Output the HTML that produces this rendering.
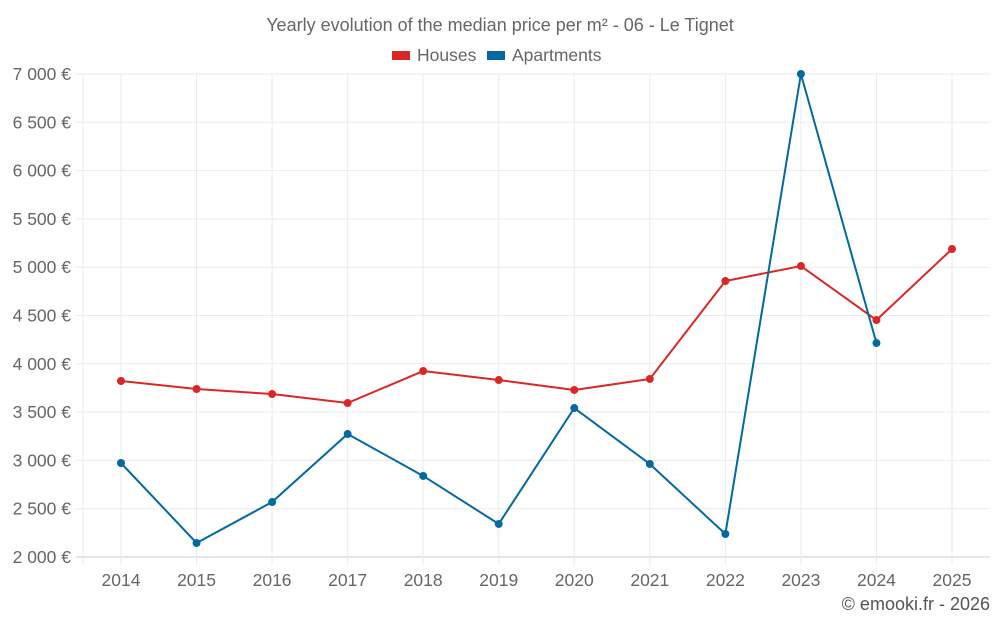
<!DOCTYPE html>
<html><head><meta charset="utf-8">
<style>
body{margin:0;background:#fff;font-family:"Liberation Sans",sans-serif;}
svg text{font-family:"Liberation Sans",sans-serif;}
</style></head>
<body>
<svg id="chart" width="1000" height="625" xmlns="http://www.w3.org/2000/svg">
<text x="500" y="31" text-anchor="middle" font-size="18" fill="#666">Yearly evolution of the median price per m² - 06 - Le Tignet</text>
<g>
<g><rect x="392" y="51" width="18" height="9" fill="#dc2626"/><text x="417" y="61" font-size="17.5" fill="#666">Houses</text></g>
<g><rect x="487" y="51" width="18" height="9" fill="#0369a1"/><text x="512" y="61" font-size="17.5" fill="#666">Apartments</text></g>
</g>
<g id="grid"></g>
<g id="axes"></g>
<g id="series"></g>
<text x="990" y="610" text-anchor="end" font-size="18" fill="#555">© emooki.fr - 2026</text>
</svg>
<script>
const years=[2014,2015,2016,2017,2018,2019,2020,2021,2022,2023,2024,2025];
const houses=[3822,3739,3687,3594,3925,3832,3729,3843,4857,5012,4453,5188];
const apartments=[2973,2145,2569,3273,2839,2342,3542,2963,2238,7000,4215,null];
const yTicks=[2000,2500,3000,3500,4000,4500,5000,5500,6000,6500,7000];
const yTickLabels=["2 000 €","2 500 €","3 000 €","3 500 €","4 000 €","4 500 €","5 000 €","5 500 €","6 000 €","6 500 €","7 000 €"];
const NS="http://www.w3.org/2000/svg";
const L=83,R=990,T=74,B=557;
const x0=121,x1=952;
function xs(i){return x0+(x1-x0)*i/(years.length-1);}
function ys(v){return B-(v-2000)/(7000-2000)*(B-T);}
function mk(tag,attrs,parent){const e=document.createElementNS(NS,tag);for(const k in attrs)e.setAttribute(k,attrs[k]);parent.appendChild(e);return e;}
const grid=document.getElementById('grid'),axes=document.getElementById('axes'),series=document.getElementById('series');
yTicks.forEach((v,i)=>{
  const l=mk('line',{x1:76,x2:R,y1:ys(v),y2:ys(v),stroke:i==0?'#ccc':'#ebebeb','stroke-width':1},grid);
  
  
  const t=mk('text',{x:71,y:ys(v)+6,'text-anchor':'end','font-size':17.5,fill:'#666'},axes);
  t.textContent=yTickLabels[i];
  
  
});
const le=mk('line',{x1:L,x2:L,y1:T,y2:B+8,stroke:'#ebebeb'},grid);


years.forEach((y,i)=>{
  const l=mk('line',{x1:xs(i),x2:xs(i),y1:T,y2:B+8,stroke:'#ebebeb'},grid);
  
  
  const t=mk('text',{x:xs(i),y:586,'text-anchor':'middle','font-size':17.5,fill:'#666'},axes);
  t.textContent=y;
  
  
});
function draw(data,color,name){
  let d='';data.forEach((v,i)=>{if(v==null)return;d+=(d?'L':'M')+xs(i)+','+ys(v);});
  const p=mk('path',{d:d,fill:'none',stroke:color,'stroke-width':2},series);
  
  
  data.forEach((v,i)=>{if(v==null)return;
    const c=mk('circle',{cx:xs(i),cy:ys(v),r:4,fill:color},series);
    
    
  });
}
draw(houses,'#dc2626','houses');
draw(apartments,'#0369a1','apartments');
</script>
</body></html>
